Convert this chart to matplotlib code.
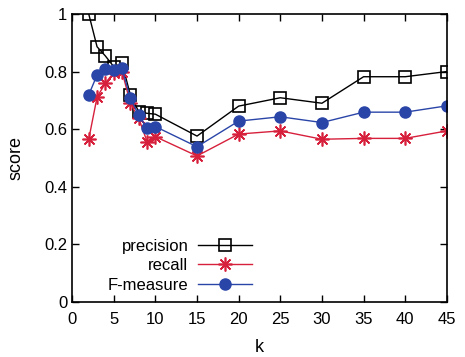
import numpy as np
import matplotlib.pyplot as plt

plt.rcParams['font.family'] = ['Liberation Sans', 'DejaVu Sans']

k = [2, 3, 4, 5, 6, 7, 8, 9, 10, 15, 20, 25, 30, 35, 40, 45]
precision = [1.0, 0.886, 0.854, 0.817, 0.828, 0.719, 0.661, 0.655, 0.652, 0.576,
             0.680, 0.709, 0.690, 0.782, 0.782, 0.800]
recall = [0.565, 0.711, 0.760, 0.796, 0.800, 0.690, 0.638, 0.557, 0.574, 0.507,
          0.583, 0.594, 0.565, 0.568, 0.568, 0.594]
fmeasure = [0.719, 0.788, 0.808, 0.806, 0.811, 0.707, 0.649, 0.603, 0.609, 0.539,
            0.628, 0.643, 0.623, 0.659, 0.659, 0.681]

fig = plt.figure(figsize=(4.65, 3.57), dpi=100)
ax = fig.add_axes([0.155, 0.154, 0.806, 0.807])

ax.plot(k, precision, color='black', lw=1, marker='s', ms=8.5, mfc='none',
        mec='black', mew=1.2, label='precision')
ax.plot(k, recall, color='#d7203c', lw=1, marker=(8, 2, 0), ms=10,
        mec='#d7203c', mew=1.2, label='recall')
ax.plot(k, fmeasure, color='#2a45a8', lw=1, marker='o', ms=8,
        mfc='#2a45a8', mec='#2a45a8', label='F-measure')

ax.set_xlim(0, 45)
ax.set_ylim(0, 1)
ax.set_xticks(np.arange(0, 46, 5))
ax.set_yticks([0, 0.2, 0.4, 0.6, 0.8, 1])
ax.set_yticklabels(['0', '0.2', '0.4', '0.6', '0.8', '1'])
ax.tick_params(direction='in', top=True, right=True, labelsize=12, length=5, width=1)
ax.tick_params(axis='x', pad=7)
for s in ax.spines.values():
    s.set_linewidth(1.2)

ax.set_xlabel('k', fontsize=13, labelpad=9)
ax.set_ylabel('score', fontsize=13, labelpad=14)

ax.legend(loc='lower left', bbox_to_anchor=(0.055, -0.02), frameon=False,
          markerfirst=False, fontsize=12, handlelength=3.2, labelspacing=0.27,
          handletextpad=0.6)

plt.savefig('out.png')
